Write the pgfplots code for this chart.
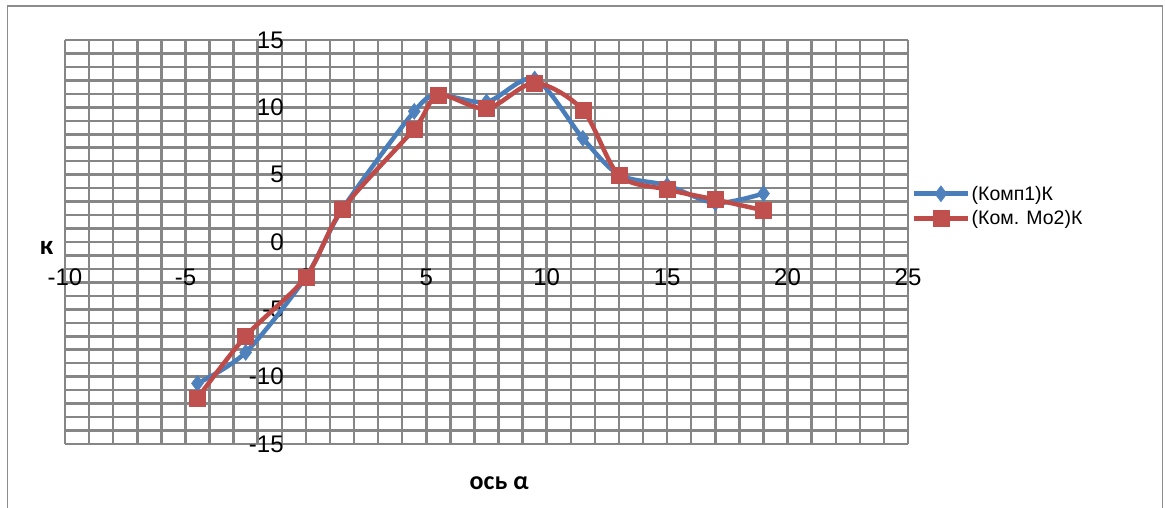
\documentclass[border=0pt]{standalone}
\usepackage{pgfplots}
\pgfplotsset{compat=1.18}
\usepackage{fontspec}
\setmainfont{Liberation Sans}
\newfontfamily\carlito{Carlito}
\definecolor{gridgray}{RGB}{134,134,134}
\definecolor{frame}{RGB}{140,140,140}
\definecolor{s1}{RGB}{74,126,187}
\definecolor{s1m}{RGB}{79,129,189}
\definecolor{s2}{RGB}{190,75,72}
\definecolor{s2m}{RGB}{192,80,77}
\begin{document}
\begin{tikzpicture}[x=1pt,y=1pt]
\useasboundingbox (0,0) rectangle (1165,-508);
\fill[white] (0,0) rectangle (1165,-508);
\draw[frame, line width=1.5] (7.5,-510) -- (7.5,-6) -- (1162.5,-6) -- (1162.5,-510);
\begin{axis}[
  at={(65pt,-444pt)}, anchor=south west,
  scale only axis, width=843pt, height=404pt,
  xmin=-10, xmax=25, ymin=-15, ymax=15,
  axis lines=middle,
  axis line style={-, draw=gridgray, line width=2.5pt},
  xtick={-10,-5,...,25}, ytick={-15,-10,...,15},
  minor x tick num=4, minor y tick num=4,
  grid=both,
  major grid style={draw=gridgray, line width=2.5pt},
  minor grid style={draw=gridgray, line width=2.5pt},
  major tick length=0pt, minor tick length=0pt,
  hide obscured x ticks=false, hide obscured y ticks=false,
  /pgf/number format/assume math mode=true,
  ticklabel style={font=\fontsize{24}{27}\selectfont, inner sep=0pt},
  xticklabel style={anchor=base, yshift=-43pt},
  yticklabel style={anchor=east, xshift=-22pt},
  xlabel={\carlito\bfseries ось α},
  xlabel style={at={(axis description cs:0.515,0)}, anchor=center, yshift=-39pt, font=\fontsize{26}{30}\selectfont},
  ylabel={\carlito\bfseries к},
  ylabel style={at={(axis description cs:0,0.5)}, anchor=center, rotate=0, xshift=-18.5pt, yshift=-6pt, font=\fontsize{27}{30}\selectfont},
  legend style={draw=none, fill=none, at={(axis description cs:1.0047,0.589)}, anchor=west,
    font=\fontsize{19.5}{22}\selectfont, row sep=5pt, inner sep=0pt,
    nodes={inner sep=2pt}},
  legend cell align=left,
  legend image code/.code={\draw[mark repeat=2,mark phase=2,#1] plot coordinates {(0pt,0pt) (26.5pt,0pt) (53pt,0pt)};},
]
\addplot[s1, line width=4.5pt, smooth, mark=diamond*, mark size=8pt,
  mark options={fill=s1m, draw=s1m, line width=0.5pt, solid}] coordinates {
  (-4.5,-10.5) (-2.5,-8.2) (0,-2.6) (1.5,2.4) (4.5,9.7) (5.5,10.9) (7.5,10.4)
  (9.5,12.1) (11.5,7.7) (13,5.0) (15,4.2) (17,2.9) (19,3.6)};
\addlegendentry{(Комп1)К}
\addplot[s2, line width=4.5pt, smooth, mark=square*, mark size=8pt,
  mark options={fill=s2m, draw=s2m, line width=0.5pt, solid}] coordinates {
  (-4.5,-11.6) (-2.5,-7.0) (0,-2.6) (1.5,2.4) (4.5,8.4) (5.5,10.9) (7.5,9.9)
  (9.5,11.8) (11.5,9.8) (13,4.95) (15,3.9) (17,3.15) (19,2.35)};
\addlegendentry{(Ком. Мо2)К}
\end{axis}
\end{tikzpicture}
\end{document}
